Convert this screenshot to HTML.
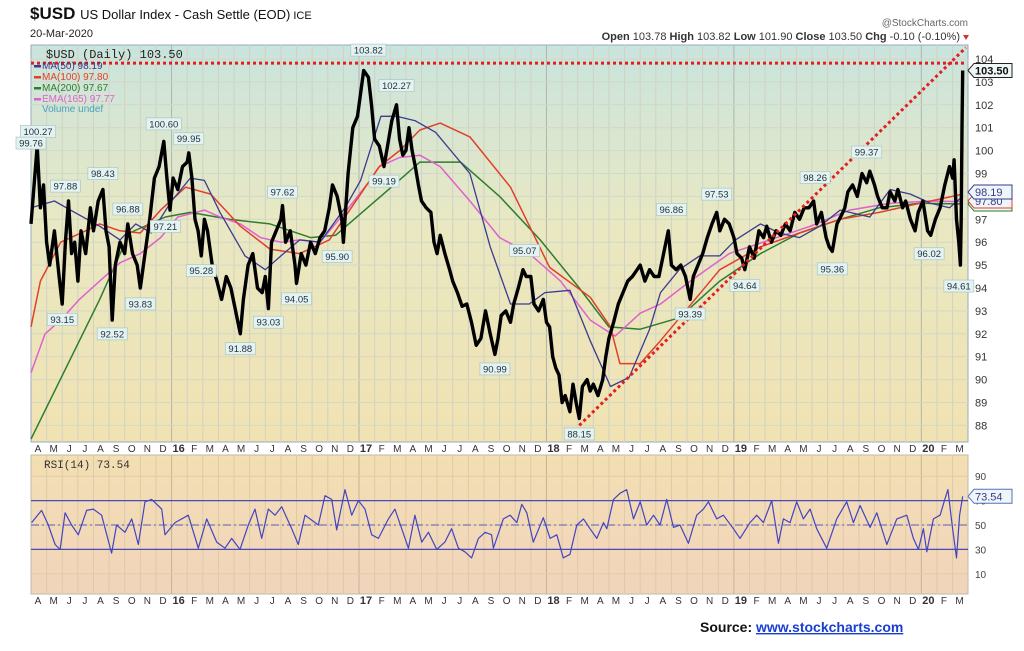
<!DOCTYPE html>
<html><head><meta charset="utf-8"><style>
html,body{margin:0;padding:0;background:#fff;}
svg{display:block;font-family:"Liberation Sans",sans-serif;}
</style></head><body>
<svg id="chart" width="1024" height="651" viewBox="0 0 1024 651" xmlns="http://www.w3.org/2000/svg">
<defs>
<linearGradient id="pg" x1="0" y1="0" x2="0" y2="1">
<stop offset="0" stop-color="#c9e4de"/><stop offset="0.45" stop-color="#e9e8c2"/><stop offset="1" stop-color="#f1e2b2"/></linearGradient>
<linearGradient id="rg" x1="0" y1="0" x2="0" y2="1">
<stop offset="0" stop-color="#f3dfb2"/><stop offset="1" stop-color="#f1d4bc"/></linearGradient>
</defs>
<g>
<text x="30" y="19" font-size="17" font-weight="bold" fill="#111">$USD <tspan font-weight="normal" font-size="13">US Dollar Index - Cash Settle (EOD)</tspan><tspan font-weight="normal" font-size="11"> ICE</tspan></text>
<text x="30" y="37" font-size="11" fill="#222">20-Mar-2020</text>
<text x="968" y="26" font-size="10" fill="#666" text-anchor="end">@StockCharts.com</text>
<text x="960" y="40" font-size="11" fill="#333" text-anchor="end"><tspan font-weight="bold">Open</tspan> 103.78 <tspan font-weight="bold">High</tspan> 103.82 <tspan font-weight="bold">Low</tspan> 101.90 <tspan font-weight="bold">Close</tspan> 103.50 <tspan font-weight="bold">Chg</tspan> -0.10 (-0.10%)</text>
<path d="M963 35 L969 35 L966 40 Z" fill="#c33"/>
</g>
<rect x="31" y="45" width="937" height="397" fill="url(#pg)" stroke="#9ab" stroke-width="1"/>
<rect x="31" y="455" width="937" height="139" fill="url(#rg)" stroke="#bba" stroke-width="1"/>
<g id="grid"></g>
<g id="marks"></g>
<g id="labels"></g>
<text x="700" y="632" font-size="14" font-weight="bold" fill="#111">Source: <tspan fill="#1a3fd0" text-decoration="underline">www.stockcharts.com</tspan></text>
</svg>
<script>
// ---- data (t = months since 1-Apr-2015) ----
const priceT=[0,0.2,0.4,0.6,0.8,1.0,1.2,1.5,1.8,2.0,2.2,2.4,2.6,2.8,3.0,3.2,3.5,3.8,4.0,4.3,4.6,4.8,5.0,5.2,5.4,5.7,6.0,6.2,6.5,6.8,7.0,7.3,7.6,7.9,8.2,8.5,8.7,8.9,9.1,9.4,9.7,10.0,10.1,10.3,10.5,10.7,10.9,11.1,11.3,11.6,11.9,12.2,12.5,12.8,13.1,13.4,13.6,13.9,14.2,14.5,14.8,15.0,15.2,15.4,15.7,16.0,16.1,16.3,16.6,16.9,17.0,17.3,17.6,17.9,18.2,18.5,18.8,19.1,19.3,19.6,19.9,20.0,20.3,20.6,20.9,21.1,21.3,21.6,21.8,22.0,22.3,22.6,22.9,23.1,23.4,23.6,23.8,24.0,24.2,24.4,24.6,24.8,25.0,25.3,25.6,25.8,26.0,26.2,26.5,26.8,27.0,27.3,27.6,27.9,28.2,28.5,28.8,29.1,29.4,29.7,29.9,30.1,30.4,30.7,30.9,31.2,31.5,31.7,32.0,32.2,32.5,32.8,33.0,33.2,33.4,33.6,33.8,34.0,34.2,34.5,34.7,34.9,35.1,35.3,35.6,35.8,36.0,36.3,36.6,36.8,37.0,37.3,37.6,37.9,38.2,38.5,38.8,39.0,39.3,39.6,39.9,40.2,40.5,40.8,41.0,41.3,41.6,41.9,42.2,42.4,42.7,43.0,43.3,43.6,43.9,44.1,44.4,44.7,45.0,45.2,45.5,45.7,46.0,46.3,46.6,46.9,47.1,47.4,47.7,48.0,48.3,48.6,48.9,49.2,49.5,49.8,50.1,50.3,50.6,50.9,51.1,51.3,51.6,51.9,52.1,52.3,52.6,52.9,53.2,53.5,53.7,54.0,54.2,54.5,54.8,55.0,55.3,55.5,55.8,56.0,56.3,56.6,56.8,57.1,57.4,57.6,57.9,58.2,58.5,58.8,59.0,59.1,59.25,59.4,59.5,59.55,59.6,59.65];
const priceV=[96.8,98.5,100.2,97.5,98.5,96,95,96.5,94.5,93.3,96,97.8,95.5,96,94.3,96.5,95.5,97.5,96.5,97.8,98.3,96.5,95.8,92.6,95,96,95.5,96.8,95.5,95,94,95.5,97,98.8,99.3,100.4,98.8,97.4,98.8,98.3,99.3,99.5,99.9,98.8,97,96.5,95.4,97,96.5,95,94.3,93.5,94.5,94,93,92,93.5,95,95.5,94,93.8,94.5,93.1,96,96.5,97,97.6,96,96.5,95,94.2,95.5,95,96,95.5,96.2,96.5,97.5,98.5,98,97,96,99,101,101.5,102.5,103.5,103.2,102,100.5,100.2,99.3,100.5,101.3,102,100.5,99.8,100,101,100,99.3,98.5,97.8,97.5,97.3,96,95.5,96.3,95.5,94.8,94.3,93.8,93.2,93.3,92.5,91.5,91.8,93,92,91.1,91.8,92.8,93,92.5,93.3,94,94.8,94.5,94.5,93.3,93,93.5,92.5,92.3,91,90.5,90.2,89,89.3,88.6,89.8,89,88.3,89.7,90,89.5,89.8,89.3,90,91,91.8,92.5,93.3,93.8,94.3,94.5,94.8,95,94.3,94.8,94.5,94.5,95.5,96.5,95,94.8,95,94.5,93.5,94.5,95,95.5,96.2,96.8,97.3,96.5,97,96.8,96.2,95.5,95.3,94.8,95.8,95.3,96.5,96.2,96.7,96,96.5,96.3,96.8,96.5,97.3,97,97.5,97.5,97.8,96.8,97.3,96.2,95.8,95.6,96.8,97.2,97.5,98.2,98.5,98,99,98.6,99.1,98.5,98,97.5,97.5,98.2,97.8,98.3,97.5,97.8,97,96.5,97.3,97.8,96.5,96.3,97,97.5,98.5,99.3,98.8,99.6,97,96,95,97,101,103.5];
const ma50T=[0,1.5,2.8,4.4,5.7,6.7,7.7,9,10.2,11.1,12.1,13.7,15,16,17.2,18.5,20.1,21.1,22.4,23.4,24.6,25.9,28.1,29.4,30.7,31.9,32.9,34.5,35.8,37.1,38.3,39.6,40.3,41.5,42.8,44.1,45.1,46.7,47.9,49.2,50.5,51.8,53.7,55,56.3,57.6,58.8,59.65];
const ma50V=[97.5,97.8,97.3,96.7,96.1,96.8,96.4,97.8,98.8,98.7,97.3,95.4,94.8,95.4,96.1,96,97.5,98.7,101.5,101.5,101.3,100.8,99,95.8,93.3,93.3,93.8,93.9,91.7,89.7,90.1,92.2,93.8,94.8,95.4,95.4,96.1,96.8,96.4,96.2,96.7,97.4,97.1,98.3,98.1,97.7,97.5,98,98.19];
const ma100T=[0,0.6,1.9,3.5,4.4,5.7,7,8.3,9.9,11.5,13.4,15.3,17.2,19.1,21.1,22.3,23.6,24.9,26.2,28.1,30.7,33.2,35.8,37.1,37.7,39,40.3,44.1,46.7,49.2,51.8,54.3,56.9,59.65];
const ma100V=[92.3,94.3,96,96.5,96.8,96.5,96.4,97.4,98.4,98.1,96.7,95.7,95.5,96.1,98.1,99.3,100,100.9,101.2,100.6,98.4,94.9,93.6,92.3,90.7,90.7,91.7,94.8,95.8,96.4,97,97.3,97.7,98.1,97.8];
const ma200T=[0,4.4,6.3,8.6,10.2,12.7,15.3,17.9,19.5,21.7,23.4,24.9,27.5,30,32.6,35.1,37,39,41.5,44.1,46.7,49.2,51.8,54.3,56.9,59.65];
const ma200V=[87.4,93.5,96.4,97.1,97.3,97,96.8,96.2,96.3,97.6,98.6,99.5,99.5,98,96.1,94,92.3,92.2,92.7,94.3,95.5,96.4,97,97.5,97.7,97.67];
const emaT=[0,0.9,1.9,3.1,4.4,5.7,7,8.3,9.4,11.1,12.1,13.4,14.7,16,17.2,18.5,20.1,21.7,22.3,23.6,24.9,26.2,28.1,30,31.9,33.9,35.8,37.4,39,40.3,42.2,44.7,47.3,49.9,52.4,55,57.6,59.65];
const emaV=[90.3,92,92.6,93.5,94.3,95.1,95.5,96.2,97.1,97.4,97.1,96.8,96.2,96,96.1,96,97.3,98.7,99.3,99.7,99.8,99.3,97.8,96.2,95.5,94.3,92.6,91.9,92.9,93.3,94.3,95.5,96.1,96.7,97.4,97.7,97.8,97.77];
const rsiT=[0.04,0.68,1.11,1.54,1.86,2.18,2.6,3.03,3.56,3.99,4.52,5.16,5.48,6.02,6.45,6.87,7.3,7.73,8.37,8.58,9.22,10.07,10.71,11.25,11.89,12.42,12.85,13.38,13.91,14.34,14.77,15.19,15.62,16.05,16.69,17.11,17.54,17.97,18.39,18.82,19.25,19.57,20.1,20.53,20.96,21.38,21.81,22.24,22.88,23.3,23.73,24.16,24.58,25.01,25.44,25.97,26.5,26.93,27.36,27.78,28.21,28.64,29.07,29.49,29.6,30.24,30.67,31.1,31.42,31.74,32.16,32.8,33.23,33.66,34.08,34.51,34.94,35.37,35.79,36.22,36.65,36.86,37.29,37.71,38.14,38.57,39.0,39.42,39.85,40.27,40.7,41.13,41.55,42.09,42.62,43.05,43.37,43.9,44.33,44.97,45.39,46.03,46.46,46.89,47.42,47.85,48.17,48.6,49.02,49.45,49.88,50.3,50.94,51.58,52.22,52.65,53.08,53.72,54.15,54.79,55.43,56.07,56.49,56.81,57.13,57.35,57.77,58.2,58.5,58.7,59.0,59.25,59.45,59.65];
const rsiV=[52,62,50,34,30,60,50,42,62,63,58,27,50,44,55,34,69,71,63,42,52,58,31,55,36,31,39,30,50,63,39,63,58,65,47,34,58,54,50,74,71,46,79,58,70,63,42,39,55,63,47,31,58,36,44,30,36,47,31,28,23,39,44,42,31,55,58,52,67,60,36,56,39,42,23,26,50,55,47,39,52,47,71,76,79,55,69,50,58,50,71,48,50,35,58,63,69,55,58,47,39,52,58,52,70,35,55,52,69,55,63,47,31,55,69,52,66,48,60,34,55,58,39,30,47,28,55,58,71,79,47,23,58,73.5];
const priceTicks=[88,89,90,91,92,93,94,95,96,97,98,99,100,101,102,103,104];
const rsiTicks=[10,30,50,70,90];
const monthLabels=["A","M","J","J","A","S","O","N","D","16","F","M","A","M","J","J","A","S","O","N","D","17","F","M","A","M","J","J","A","S","O","N","D","18","F","M","A","M","J","J","A","S","O","N","D","19","F","M","A","M","J","J","A","S","O","N","D","20","F","M"];
const peakT=[0.45,0,2.2,2.0,4.6,5.2,6.2,7.0,8.5,8.6,10.1,10.9,13.4,15.2,16.1,17.0,19.6,21.6,22.6,23.4,29.7,31.6,35.1,41.0,42.2,43.9,45.7,50.2,51.3,53.5,57.5,59.4];
const peakV=[100.27,99.76,97.88,93.15,98.43,92.52,96.88,93.83,100.60,97.21,99.95,95.28,91.88,93.03,97.62,94.05,95.90,103.82,99.19,102.27,90.99,95.07,88.15,96.86,93.39,97.53,94.64,98.26,95.36,99.37,96.02,94.61];
const peakAbove=[1,1,1,0,1,0,1,0,1,0,1,0,0,0,1,0,0,1,0,1,0,1,0,1,0,1,0,1,0,1,0,0];
const resistanceV=103.82;
const trendT=[35.1,59.85];
const trendV=[88.0,104.5];

// ---- axes ----
const X0=31,PXM=15.62;
const xT=t=>X0+t*PXM;
const yP=v=>59+(104-v)*22.9;
const yR=v=>525-(v-50)*1.22;
const NS="http://www.w3.org/2000/svg";
function mk(tag,parent,attrs){const e=document.createElementNS(NS,tag);for(const k in attrs)e.setAttribute(k,attrs[k]);parent.appendChild(e);return e;}
const grid=document.getElementById('grid'),marks=document.getElementById('marks'),labels=document.getElementById('labels');

monthLabels.forEach((m,i)=>{
  const x=xT(i);
  if(i>0){
    const g1=mk('line',grid,{x1:x,x2:x,y1:45,y2:442,stroke:m.length>1?'#b0b4aa':'#cfd2c2','stroke-width':1});
    
    
    const g2=mk('line',grid,{x1:x,x2:x,y1:455,y2:594,stroke:m.length>1?'#c4b496':'#dccaa8','stroke-width':1});
    
    
  }
  [452,604].forEach(yy=>{
    const t=mk('text',labels,{x:x+7,y:yy,'font-size':m.length>1?11:10,'font-weight':m.length>1?'bold':'normal','text-anchor':'middle',fill:'#333'});
    t.textContent=m;
    
    
  });
});
priceTicks.forEach(v=>{
  const y=yP(v);
  const l=mk('line',grid,{x1:31,x2:968,y1:y,y2:y,stroke:'#d2d8c6','stroke-width':1});
  
  
  const t=mk('text',labels,{x:975,y:y+4,'font-size':11,fill:'#333'});
  t.textContent=v;
  
  
});
rsiTicks.forEach(v=>{
  const y=yR(v);
  const l=mk('line',grid,{x1:31,x2:968,y1:y,y2:y,stroke:'#e2cba6','stroke-width':1});
  
  
  const t=mk('text',labels,{x:975,y:y+4,'font-size':10,fill:'#444'});
  t.textContent=v;
  
  
});
[70,30].forEach(v=>{
  const l=mk('line',marks,{x1:31,x2:968,y1:yR(v),y2:yR(v),stroke:'#4a4ab8','stroke-width':1.3});
  
  
});
const mid=mk('line',marks,{x1:31,x2:968,y1:yR(50),y2:yR(50),stroke:'#5a5ac0','stroke-width':1,'stroke-dasharray':'8 3 2 3'});



function poly(T,V,yf,color,w,name){
  const pts=T.map((t,i)=>xT(t).toFixed(1)+','+yf(V[i]).toFixed(1)).join(' ');
  const p=mk('polyline',marks,{points:pts,fill:'none',stroke:color,'stroke-width':w,'stroke-linejoin':'round'});
  
  
  return p;
}
poly(ma200T,ma200V,yP,'#2e7d2e',1.5,'ma200-line');
poly(emaT,emaV,yP,'#e060d0',1.5,'ema165-line');
poly(ma100T,ma100V,yP,'#e0402a',1.5,'ma100-line');
poly(ma50T,ma50V,yP,'#3a3a90',1.3,'ma50-line');
poly(priceT,priceV,yP,'#000',3.4,'price-line');
poly(rsiT,rsiV,yR,'#4444c0',1.2,'rsi-line');

const hl=mk('line',marks,{x1:31,x2:xT(59.85),y1:yP(resistanceV),y2:yP(resistanceV),stroke:'#e02020','stroke-width':3,'stroke-dasharray':'3 3'});


const tl=mk('line',marks,{x1:xT(trendT[0]),y1:yP(trendV[0]),x2:xT(trendT[1]),y2:yP(trendV[1]),stroke:'#e02020','stroke-width':3,'stroke-dasharray':'3 3'});



peakT.forEach((t,i)=>{
  const x=xT(t),y=yP(peakV[i]);
  const txt=peakV[i].toFixed(2);
  const w=txt.length*5.2+4;
  const yy=peakAbove[i]?y-19:y+6;
  const g=mk('g',labels,{});
  
  
  mk('rect',g,{x:x-w/2,y:yy,width:w,height:12,fill:'#e4f2f0',stroke:'#a8c8c8','stroke-width':0.7});
  const tx=mk('text',g,{x:x,y:yy+9.5,'font-size':9.5,'text-anchor':'middle',fill:'#234'});
  tx.textContent=txt;
});

const leg=[["$USD (Daily) 103.50","#222",12,58,""],["MA(50) 98.19","#3a3a90",10,69,"#3a3a90"],["MA(100) 97.80","#e0402a",10,80,"#e0402a"],["MA(200) 97.67","#2e7d2e",10,91,"#2e7d2e"],["EMA(165) 97.77","#e060d0",10,102,"#e060d0"],["Volume undef","#4aa0c0",10,112,""]];
leg.forEach((l,i)=>{
  if(l[4]){const s=mk('rect',labels,{x:34,y:l[3]-4,width:7,height:2.5,fill:l[4]});
    
    }
  const t=mk('text',labels,{x:i==0?46:42,y:l[3],'font-size':l[2],fill:l[1],'font-family':i==0?'Liberation Mono, monospace':'Liberation Sans, sans-serif'});
  t.textContent=l[0];
  
  
});
const ri=mk('text',labels,{x:44,y:468,'font-size':11,fill:'#333','font-family':'Liberation Mono, monospace'});
ri.textContent='RSI(14) 73.54';



function tag(v,yf,txt,border,color,bold,name){
  const y=yf(v);
  const g=mk('g',labels,{});
  
  
  mk('path',g,{d:`M968 ${y} L974 ${y-7} L1012 ${y-7} L1012 ${y+7} L974 ${y+7} Z`,fill:'#eef6f8',stroke:border,'stroke-width':1});
  const t=mk('text',g,{x:975,y:y+4,'font-size':11,'font-weight':bold?'bold':'normal',fill:color});
  t.textContent=txt;
}
tag(97.67,yP,'97.67','#2e7d2e','#2e7d2e',0,'ma200-value-tag');
tag(97.80,yP,'97.80','#e0402a','#3a3a90',0,'ma100-value-tag');
tag(98.19,yP,'98.19','#3a3a90','#3a3a90',0,'ma50-value-tag');
tag(103.50,yP,'103.50','#222','#111',1,'close-value-tag');
tag(73.54,yR,'73.54','#5070c0','#3a3a90',0,'rsi-value-tag');
</script>
</body></html>
